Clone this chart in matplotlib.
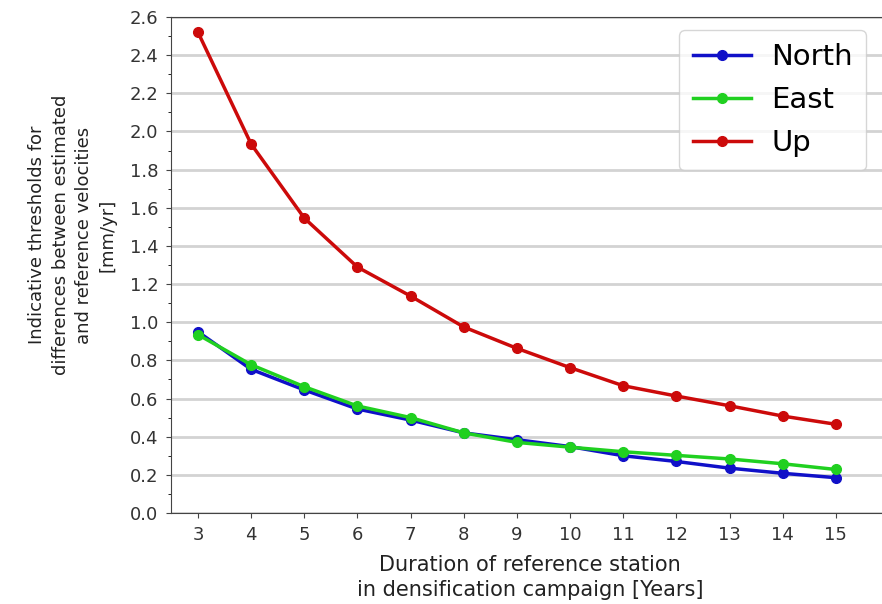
import matplotlib.pyplot as plt
import numpy as np

years = [3, 4, 5, 6, 7, 8, 9, 10, 11, 12, 13, 14, 15]
north = [0.95, 0.753, 0.645, 0.545, 0.487, 0.42, 0.384, 0.348, 0.30, 0.27, 0.235, 0.208, 0.185]
east = [0.935, 0.777, 0.662, 0.561, 0.50, 0.42, 0.37, 0.345, 0.321, 0.302, 0.283, 0.258, 0.228]
up = [2.52, 1.934, 1.546, 1.289, 1.137, 0.975, 0.863, 0.762, 0.667, 0.613, 0.562, 0.508, 0.465]

fig = plt.figure(figsize=(8.82, 6.04), dpi=100)
# the axes runs slightly past the right edge, as in the cropped original
ax = fig.add_axes([0.1943, 0.1507, 0.8136, 0.8212])

ax.plot(years, north, color='#1010c8', marker='o', markersize=7, linewidth=2.5, label='North')
ax.plot(years, east, color='#20d020', marker='o', markersize=7, linewidth=2.5, label='East')
ax.plot(years, up, color='#cc0a0a', marker='o', markersize=7, linewidth=2.5, label='Up')

ax.set_xlim(2.5, 16)
ax.set_ylim(0, 2.6)
ax.set_xticks(years)
ax.set_yticks(np.arange(0, 2.61, 0.2))
ax.set_yticks(np.arange(0, 2.61, 0.1), minor=True)
ax.yaxis.grid(True, which='major', color='#d3d3d3', linewidth=2)
ax.set_axisbelow(True)
ax.spines['right'].set_visible(False)
for s in ax.spines.values():
    s.set_color('#444444')
ax.tick_params(labelsize=13, labelcolor='#333333', colors='#444444')
ax.tick_params(axis='y', pad=6)
ax.tick_params(axis='x', pad=6)

ax.set_xlabel('Duration of reference station\nin densification campaign [Years]',
              fontsize=15, linespacing=1.3, color='#222222', labelpad=8)
ax.set_ylabel('Indicative thresholds for\ndifferences between estimated\nand reference velocities\n[mm/yr]',
              fontsize=13, linespacing=1.4, color='#222222', labelpad=9)
ax.yaxis.label.set_y(0.56)

ax.legend(loc='upper right', bbox_to_anchor=(0.968, 0.974), borderaxespad=0,
          fontsize=21, labelspacing=0.52, handlelength=2.0, handletextpad=0.7,
          borderpad=0.45)

fig.savefig('out.png', dpi=100)
